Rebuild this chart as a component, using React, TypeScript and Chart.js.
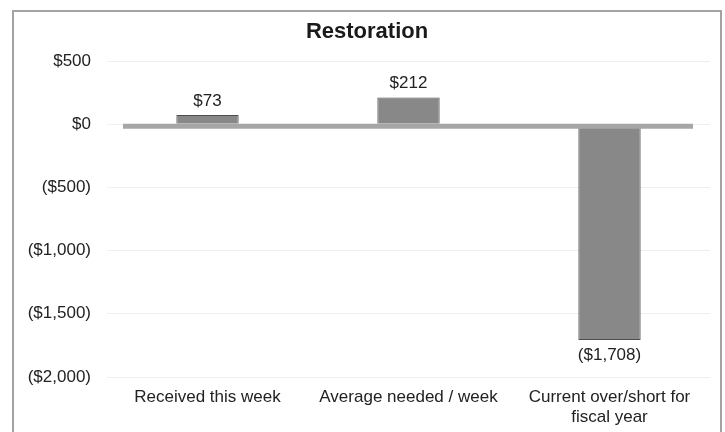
import React, { useEffect, useRef } from "react";
import { Chart, registerables } from "chart.js";

Chart.register(...registerables);

const chartTitle = "Restoration";
const categories: (string | string[])[] = [
  "Received this week",
  "Average needed / week",
  ["Current over/short for", "fiscal year"],
];
const values: number[] = [73, 212, -1708];
const yMin = -2000;
const yMax = 500;
const yStep = 500;

const fmtMoney = (v: number): string => {
  const s = "$" + Math.abs(v).toLocaleString("en-US");
  return v < 0 ? "(" + s + ")" : s;
};

const FONT = "'Liberation Sans', Arial, sans-serif";

const framePlugin = {
  id: "framePlugin",
  beforeDraw(chart: any) {
    const ctx = chart.ctx;
    ctx.save();
    ctx.fillStyle = "#ffffff";
    ctx.fillRect(0, 0, chart.width, chart.height);
    ctx.strokeStyle = "#a3a3a3";
    ctx.lineWidth = 2;
    ctx.strokeRect(13, 11, 708, 440);
    ctx.fillStyle = "#1a1a1a";
    ctx.font = `bold 22px ${FONT}`;
    ctx.textAlign = "center";
    ctx.textBaseline = "middle";
    ctx.fillText(chartTitle, 367, 32);
    ctx.restore();
  },
  afterDatasetsDraw(chart: any) {
    const ctx = chart.ctx;
    const y = chart.scales.y;
    const area = chart.chartArea;
    const y0 = y.getPixelForValue(0) + 2;
    ctx.save();
    ctx.strokeStyle = "#a6a6a6";
    ctx.lineWidth = 5;
    ctx.beginPath();
    ctx.moveTo(area.left + 16, y0);
    ctx.lineTo(area.right - 17, y0);
    ctx.stroke();
    const meta = chart.getDatasetMeta(0);
    ctx.fillStyle = "#222222";
    ctx.font = `17px ${FONT}`;
    ctx.textAlign = "center";
    ctx.textBaseline = "middle";
    meta.data.forEach((bar: any, i: number) => {
      const v = values[i];
      const ty = v >= 0 ? bar.y - 14 : bar.y + 15;
      ctx.fillText(fmtMoney(v), bar.x, ty);
    });
    ctx.restore();
  },
};

export default function App() {
  const ref = useRef<HTMLCanvasElement | null>(null);
  useEffect(() => {
    if (!ref.current) return;
    const chart = new Chart(ref.current, {
      type: "bar",
      data: {
        labels: categories,
        datasets: [
          {
            data: values,
            backgroundColor: "#888888",
            borderColor: "#4d4d4d",
            borderWidth: 1,
            barPercentage: 0.31,
            categoryPercentage: 1,
          },
        ],
      },
      options: {
        animation: false,
        responsive: false,
        layout: { padding: { top: 61, right: 15, left: 0, bottom: 0 } },
        plugins: {
          legend: { display: false },
          title: { display: false },
          tooltip: { enabled: false },
        },
        scales: {
          x: {
            grid: { display: false },
            border: { display: false },
            ticks: {
              color: "#222222",
              font: { family: FONT, size: 17, lineHeight: 1.15 },
              padding: 3,
              maxRotation: 0,
              autoSkip: false,
            },
            afterFit(scale: any) {
              scale.height = 55;
            },
          },
          y: {
            min: yMin,
            max: yMax,
            grid: { color: "#efefef", drawTicks: false },
            border: { display: false },
            ticks: {
              stepSize: yStep,
              color: "#222222",
              font: { family: FONT, size: 17 },
              padding: 16,
              callback: (v: any) => fmtMoney(Number(v)),
            },
            afterFit(scale: any) {
              scale.width = 107;
            },
          },
        },
      },
      plugins: [framePlugin],
    });
    return () => chart.destroy();
  }, []);
  return (
    <div style={{ position: "fixed", left: 0, top: 0, width: 725, height: 432 }}>
      <canvas ref={ref} width={725} height={432} />
    </div>
  );
}
